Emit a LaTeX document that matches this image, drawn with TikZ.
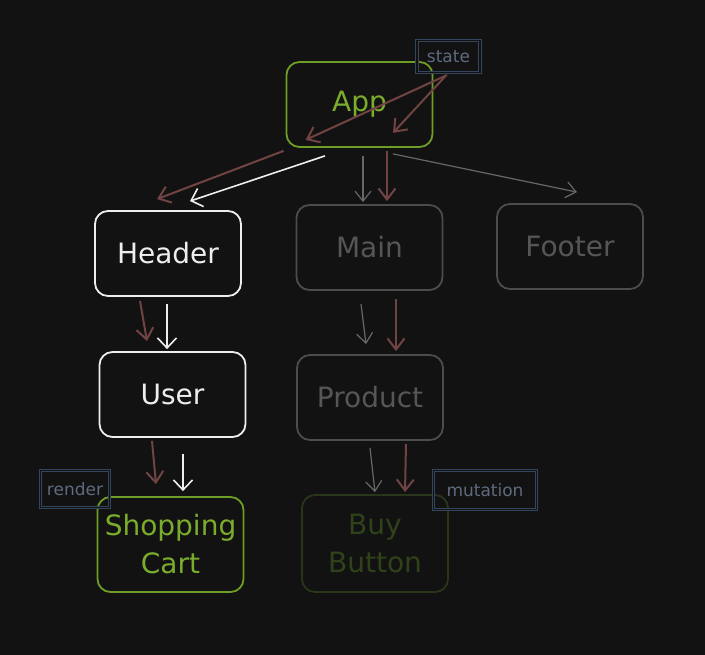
\documentclass[tikz,border=0pt]{standalone}
\usepackage{fontspec}
\setmainfont{DejaVu Sans}
\usepackage{tikz}
\usetikzlibrary{arrows.meta,positioning}

\definecolor{bgdark}{HTML}{121212}
\definecolor{livewhite}{HTML}{EEEEEE}
\definecolor{dimgrey}{HTML}{4C4C4C}
\definecolor{dimtext}{HTML}{565656}
\definecolor{hotgreen}{HTML}{6E9E25}
\definecolor{hottext}{HTML}{7AAD2C}
\definecolor{fadegreen}{HTML}{29361A}
\definecolor{fadetext}{HTML}{2F421A}
\definecolor{flowred}{HTML}{724343}
\definecolor{tagblue}{HTML}{34465E}

\begin{document}
\begin{tikzpicture}[
  x=1pt,
  y=-1pt,
  comp/.style={rectangle,rounded corners=13pt,line width=1.8pt,inner sep=0pt,
    minimum width=146pt,minimum height=85pt,align=center,font=\fontsize{28}{38}\selectfont},
  live/.style={comp,draw=livewhite,text=livewhite},
  dimmed/.style={comp,draw=dimgrey,text=dimtext},
  hot/.style={comp,draw=hotgreen,text=hottext},
  faded/.style={comp,draw=fadegreen,text=fadetext},
  tagbox/.style={rectangle,draw=tagblue,double=bgdark,double distance=1.2pt,line width=1.1pt,
    text=tagblue!80!white,inner sep=0pt,font=\fontsize{17}{20}\selectfont},
  wedge/.style={-{Straight Barb[length=10pt,width=19pt]},line width=1.6pt,livewhite},
  gedge/.style={-{Straight Barb[length=10pt,width=16pt]},line width=1.2pt,dimgrey!85!white},
  redge/.style={-{Straight Barb[length=11pt,width=17pt]},line width=2pt,flowred}
]

\fill[bgdark] (0,0) rectangle (705,655);
\useasboundingbox (0,0) rectangle (705,655);

% row 1
\node[hot] (app) at (359.5,104.5) {App};
\node[tagbox,minimum width=63pt,minimum height=32pt] (state) at (448.5,56.5) {state};

% row 2
\node[live] (header) at (168,253.5) {Header};
\node[dimmed] (main) at (369.5,247.5) {Main};
\node[dimmed] (footer) at (570,246.5) {Footer};

% row 3
\node[live] (user) at (172.5,394.5) {User};
\node[dimmed] (product) at (370,397.5) {Product};

% row 4
\node[hot,minimum height=95pt] (cart) at (170.5,544.5) {Shopping\\Cart};
\node[faded,minimum height=97pt] (buy) at (375,543.5) {Buy\\Button};
\node[tagbox,minimum width=69pt,minimum height=37pt] (render) at (75,489) {render};
\node[tagbox,minimum width=103pt,minimum height=39pt] (mutation) at (485,490) {mutation};

% state into app
\draw[redge] ([xshift=-1.5pt,yshift=-2pt]state.south) -- ([xshift=20pt,yshift=8pt]app.south west);
\draw[redge] ([xshift=-3pt,yshift=-3pt]state.south) -- ([xshift=33.5pt,yshift=15pt]app.south);

% app to row 2
\draw[redge] ([xshift=-2pt,yshift=-3pt]app.south west) -- ([xshift=-11pt,yshift=11pt]header.north);
\draw[wedge] ([xshift=-34.5pt,yshift=-8pt]app.south) -- ([xshift=22pt,yshift=9pt]header.north);
\draw[gedge] ([xshift=3.5pt,yshift=-8pt]app.south) -- ([xshift=-6.5pt,yshift=2pt]main.north);
\draw[redge] ([xshift=27.5pt,yshift=-3pt]app.south) -- ([xshift=17.5pt,yshift=3pt]main.north);
\draw[gedge] ([xshift=33.5pt,yshift=-6pt]app.south) -- ([xshift=7pt,yshift=11pt]footer.north);

% row 2 to row 3
\draw[redge] ([xshift=-28pt,yshift=-4pt]header.south) -- ([xshift=-25.5pt,yshift=10pt]user.north);
\draw[wedge] ([xshift=-1pt,yshift=-7pt]header.south) -- ([xshift=-5.5pt,yshift=2pt]user.north);
\draw[gedge] ([xshift=-8.5pt,yshift=-13pt]main.south) -- ([xshift=-4pt,yshift=10pt]product.north);
\draw[redge] ([xshift=26.5pt,yshift=-8pt]main.south) -- ([xshift=26pt,yshift=3pt]product.north);

% row 3 to row 4
\draw[redge] ([xshift=-20.5pt,yshift=-3pt]user.south) -- ([xshift=-14.5pt,yshift=12pt]cart.north);
\draw[wedge] ([xshift=10.5pt,yshift=-16pt]user.south) -- ([xshift=12.5pt,yshift=5pt]cart.north);
\draw[gedge] ([yshift=-7pt]product.south) -- ([yshift=2pt]buy.north);
\draw[redge] ([xshift=36pt,yshift=-3pt]product.south) -- ([xshift=30pt,yshift=2pt]buy.north);
\end{tikzpicture}
\end{document}
